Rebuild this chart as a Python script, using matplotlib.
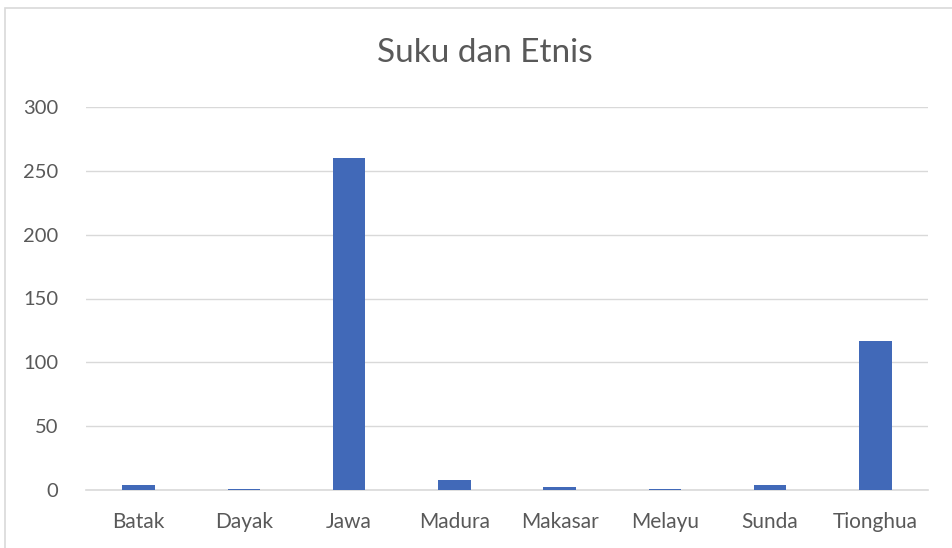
import matplotlib
matplotlib.use("Agg")
import matplotlib.pyplot as plt
from matplotlib.patches import Rectangle

categories = ["Batak", "Dayak", "Jawa", "Madura", "Makasar", "Melayu", "Sunda", "Tionghua"]
values = [4, 1, 260, 8, 2, 1, 4, 117]
yticks = [0, 50, 100, 150, 200, 250, 300]

plt.rcParams['font.family'] = ['Lato', 'DejaVu Sans']
gray = "#595959"

fig = plt.figure(figsize=(9.52, 5.48), dpi=100)
fig.patches.append(Rectangle((5/952, -0.2), 1.2, 1.2 - 8/548, transform=fig.transFigure,
                             fill=False, edgecolor="#d9d9d9", linewidth=1.2))
ax = fig.add_axes([86/952, 1 - 490/548, (928 - 86)/952, (490 - 107)/548])

x = list(range(len(categories)))
ax.bar(x, values, width=0.31, color="#4169b8", zorder=3)
ax.set_xlim(-0.5, len(categories) - 0.5)
ax.set_ylim(0, 300)
ax.set_yticks(yticks)
ax.set_xticks(x)
ax.set_xticklabels(categories)
ax.grid(axis='y', color="#d9d9d9", linewidth=1.0, zorder=0)
for s in ["top", "right", "left"]:
    ax.spines[s].set_visible(False)
ax.spines["bottom"].set_color("#d9d9d9")
ax.spines["bottom"].set_linewidth(1.2)
ax.tick_params(axis='x', length=0, colors=gray, labelsize=15, pad=16)
ax.tick_params(axis='y', length=0, colors=gray, labelsize=14.5, pad=20)

fig.text(0.509, 1 - 53/548, "Suku dan Etnis", ha="center", va="center", fontsize=24, color=gray)

fig.savefig("out.png", dpi=100)
